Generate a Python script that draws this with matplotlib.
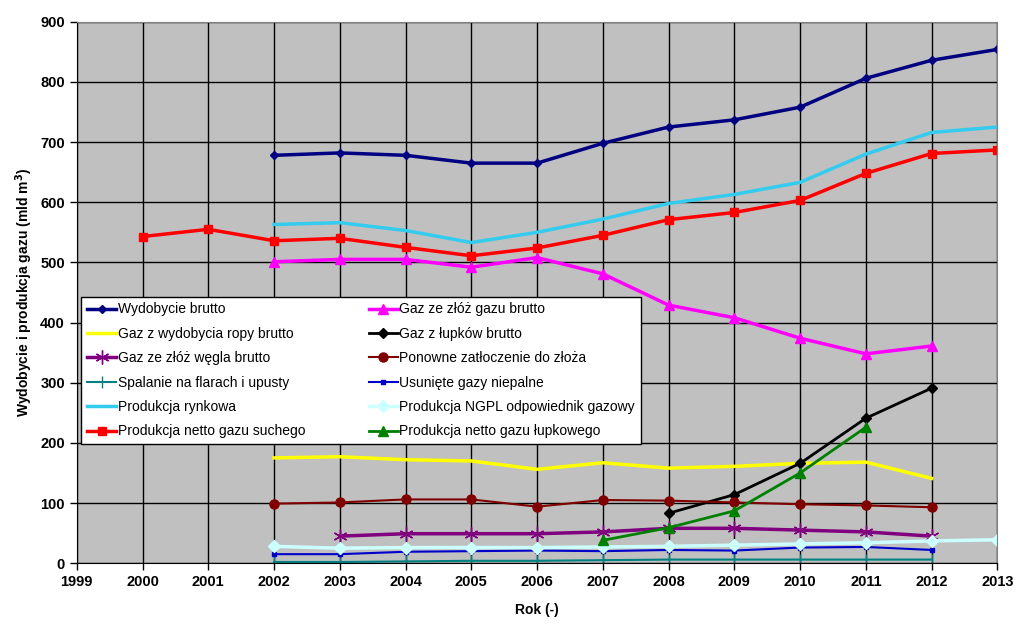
import matplotlib
matplotlib.use("Agg")
import matplotlib.pyplot as plt

plt.rcParams['font.family'] = ['Liberation Sans', 'DejaVu Sans']

# years for each series
years_all = [2000, 2001, 2002, 2003, 2004, 2005, 2006, 2007, 2008, 2009, 2010, 2011, 2012, 2013]
years_02_13 = years_all[2:]
years_02_12 = years_all[2:13]
years_03_12 = years_all[3:13]
years_07_11 = years_all[7:12]
years_08_12 = years_all[8:13]

# values (mld m3)
wydobycie_brutto = [678, 682, 678, 665, 665, 698, 725, 737, 758, 806, 836, 854]
zloza_gazu = [501, 505, 505, 492, 508, 481, 429, 408, 374, 348, 361]
ropa_brutto = [175, 177, 172, 170, 156, 167, 158, 161, 166, 168, 141]
lupki_brutto = [83, 114, 166, 241, 291]
wegiel_brutto = [45, 49, 49, 49, 52, 58, 58, 55, 52, 45]
zatloczenie = [99, 101, 106, 106, 94, 105, 104, 101, 98, 96, 93]
flary = [2, 2, 3, 4, 4, 5, 6, 6, 6, 6, 6]
niepalne = [15, 15, 19, 20, 21, 20, 22, 21, 26, 27, 22]
rynkowa = [563, 566, 553, 533, 550, 572, 598, 613, 633, 680, 716, 725]
ngpl = [28, 25, 26, 26, 26, 27, 28, 30, 32, 34, 37, 39]
netto_suchy = [543, 555, 536, 540, 525, 511, 524, 545, 571, 583, 603, 648, 681, 687]
netto_lupki = [38, 59, 87, 150, 226]

fig = plt.figure(figsize=(10.24, 6.4), dpi=100)
ax = fig.add_axes([0.075, 0.12, 0.899, 0.846])
ax.set_facecolor('#C0C0C0')

l1, = ax.plot(years_02_13, wydobycie_brutto, color='#000080', lw=2.5, marker='D', ms=4.5, label='Wydobycie brutto')
l2, = ax.plot(years_02_12, zloza_gazu, color='#FF00FF', lw=2.5, marker='^', ms=6.5, label='Gaz ze złóż gazu brutto')
l3, = ax.plot(years_02_12, ropa_brutto, color='#FFFF00', lw=2.5, label='Gaz z wydobycia ropy brutto')
l4, = ax.plot(years_08_12, lupki_brutto, color='#000000', lw=2, marker='D', ms=5.5, label='Gaz z łupków brutto')
l5, = ax.plot(years_03_12, wegiel_brutto, color='#800080', lw=2.5, marker=(6, 2, 0), ms=10, mew=1.0, label='Gaz ze złóż węgla brutto')
l6, = ax.plot(years_02_12, zatloczenie, color='#800000', lw=1.5, marker='o', ms=6.5, label='Ponowne zatłoczenie do złoża')
l7, = ax.plot(years_02_12, flary, color='#008080', lw=1.5, marker='|', ms=9, label='Spalanie na flarach i upusty')
l8, = ax.plot(years_02_12, niepalne, color='#0000CC', lw=1.5, marker='s', ms=3, label='Usunięte gazy niepalne')
l9, = ax.plot(years_02_13, rynkowa, color='#33CCEE', lw=2.5, label='Produkcja rynkowa')
l10, = ax.plot(years_02_13, ngpl, color='#CCFFFF', lw=2.5, marker='D', ms=6.5, label='Produkcja NGPL odpowiednik gazowy')
l11, = ax.plot(years_all, netto_suchy, color='#FF0000', lw=2.5, marker='s', ms=6, label='Produkcja netto gazu suchego')
l12, = ax.plot(years_07_11, netto_lupki, color='#008000', lw=2, marker='^', ms=6.5, label='Produkcja netto gazu łupkowego')

ax.set_xlim(1999, 2013)
ax.set_ylim(0, 900)
ax.set_xticks(range(1999, 2014))
ax.set_yticks(range(0, 901, 100))
ax.grid(True, color='black', lw=1)
ax.set_axisbelow(True)
for s in ax.spines.values():
    s.set_color('#808080')
ax.spines['left'].set_color('black')
ax.spines['bottom'].set_color('black')
ax.tick_params(direction='out', length=5, width=1, labelsize=10.5)
for t in ax.get_xticklabels() + ax.get_yticklabels():
    t.set_fontweight('bold')

ax.set_xlabel('Rok (-)', fontsize=10, fontweight='bold', labelpad=10)
ax.set_ylabel('Wydobycie i produkcja gazu (mld m$^\\mathbf{3}$)', fontsize=10, fontweight='bold')

# legend filled column by column, matching row order of the reference
handles = [l1, l3, l5, l7, l9, l11, l2, l4, l6, l8, l10, l12]
leg = ax.legend(handles=handles, ncol=2, loc='upper left', bbox_to_anchor=(0.005, 0.492),
                fontsize=10, frameon=True, fancybox=False, edgecolor='black',
                framealpha=1, handlelength=2.1, handletextpad=0.1, columnspacing=4.6,
                labelspacing=0.75, borderpad=0.4, borderaxespad=0)
leg.get_frame().set_linewidth(1)

fig.savefig('out.png', dpi=100)
